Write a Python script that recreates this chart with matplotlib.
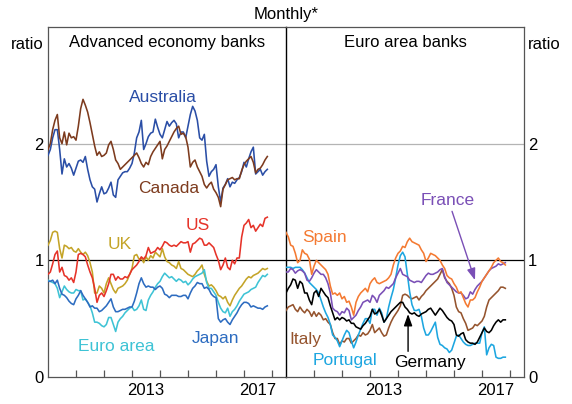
import numpy as np
import matplotlib
matplotlib.use('Agg')
import matplotlib.pyplot as plt

plt.rcParams['font.family'] = ['Liberation Sans', 'DejaVu Sans']

# monthly observations, Jan 2010 onwards
start_year = 2010

australia = [1.90, 1.95, 2.05, 2.12, 2.12, 1.95, 1.74, 1.87, 1.80, 1.83, 1.79, 1.73,
             1.79, 1.85, 1.86, 1.84, 1.89, 1.78, 1.69, 1.63, 1.61, 1.50, 1.57, 1.63,
             1.57, 1.58, 1.62, 1.67, 1.56, 1.54, 1.69, 1.72, 1.75, 1.76, 1.76, 1.79,
             1.83, 1.92, 2.05, 2.10, 2.20, 1.95, 2.00, 2.06, 2.09, 2.10, 2.21, 2.14,
             2.08, 2.05, 2.12, 2.19, 2.15, 2.18, 2.20, 2.17, 2.05, 2.10, 2.10, 2.05,
             2.15, 2.25, 2.32, 2.28, 2.20, 2.05, 2.03, 2.08, 1.85, 1.72, 1.76, 1.78,
             1.82, 1.63, 1.50, 1.62, 1.65, 1.70, 1.63, 1.67, 1.66, 1.69, 1.71, 1.76,
             1.84, 1.80, 1.87, 1.93, 1.97, 1.74, 1.76, 1.78, 1.73, 1.76, 1.78]
canada = [1.95, 2.00, 2.12, 2.20, 2.25, 2.05, 2.00, 2.10, 1.99, 2.09, 2.05, 2.06,
          2.03, 2.15, 2.30, 2.38, 2.33, 2.27, 2.18, 2.08, 1.98, 1.90, 1.93, 1.89,
          1.90, 1.92, 1.99, 2.02, 1.95, 1.86, 1.83, 1.78, 1.80, 1.82, 1.84, 1.86,
          1.88, 1.90, 1.92, 1.88, 1.83, 1.80, 1.84, 1.82, 1.89, 1.93, 1.96, 1.99,
          2.02, 1.87, 1.95, 1.98, 2.02, 2.06, 2.10, 2.13, 2.15, 2.08, 2.09, 2.06,
          1.97, 1.80, 1.84, 1.86, 1.80, 1.76, 1.72, 1.65, 1.62, 1.65, 1.67, 1.61,
          1.58, 1.54, 1.46, 1.61, 1.65, 1.69, 1.70, 1.71, 1.69, 1.70, 1.70, 1.77,
          1.82, 1.85, 1.87, 1.89, 1.84, 1.75, 1.78, 1.79, 1.82, 1.86, 1.89]
uk = [1.13, 1.17, 1.24, 1.25, 1.24, 1.10, 1.02, 1.13, 1.12, 1.10, 1.11, 1.08,
      1.07, 1.10, 1.07, 1.05, 1.07, 1.04, 0.98, 0.90, 0.72, 0.72, 0.78, 0.76,
      0.72, 0.80, 0.85, 0.80, 0.75, 0.72, 0.76, 0.77, 0.78, 0.80, 0.83, 0.88,
      0.93, 1.04, 1.05, 1.01, 1.02, 0.98, 1.03, 1.00, 1.04, 1.02, 1.07, 1.05,
      1.03, 1.10, 1.03, 0.99, 0.98, 0.96, 0.95, 0.93, 0.99, 0.93, 0.92, 0.90,
      0.88, 0.87, 0.86, 0.88, 0.91, 0.93, 0.96, 0.88, 0.82, 0.78, 0.79, 0.77,
      0.74, 0.70, 0.69, 0.67, 0.69, 0.64, 0.61, 0.66, 0.70, 0.73, 0.76, 0.78,
      0.81, 0.84, 0.86, 0.85, 0.87, 0.88, 0.89, 0.91, 0.93, 0.92, 0.93]
us = [0.88, 0.90, 0.97, 1.05, 1.08, 0.90, 0.94, 0.87, 0.86, 0.83, 0.85, 0.81,
      0.90, 1.05, 1.06, 1.05, 1.03, 0.96, 0.90, 0.85, 0.76, 0.64, 0.70, 0.72,
      0.69, 0.74, 0.80, 0.88, 0.88, 0.83, 0.86, 0.84, 0.84, 0.86, 0.85, 0.88,
      0.92, 0.94, 0.96, 0.99, 1.03, 1.01, 1.04, 1.11, 1.06, 1.07, 1.08, 1.11,
      1.09, 1.12, 1.16, 1.15, 1.13, 1.12, 1.13, 1.12, 1.14, 1.16, 1.15, 1.15,
      1.16, 1.07, 1.14, 1.15, 1.17, 1.19, 1.18, 1.13, 1.13, 1.15, 1.13, 1.11,
      1.05, 1.00, 0.92, 0.96, 1.02, 0.94, 0.92, 1.00, 0.97, 1.02, 1.02, 1.20,
      1.30, 1.32, 1.35, 1.28, 1.30, 1.25, 1.28, 1.31, 1.29, 1.36, 1.37]
euro_area = [0.83, 0.82, 0.81, 0.80, 0.76, 0.68, 0.73, 0.78, 0.75, 0.73, 0.72, 0.72,
             0.75, 0.74, 0.74, 0.66, 0.67, 0.64, 0.61, 0.55, 0.47, 0.47, 0.46, 0.44,
             0.43, 0.45, 0.51, 0.51, 0.45, 0.39, 0.47, 0.50, 0.52, 0.55, 0.57, 0.59,
             0.60, 0.57, 0.58, 0.61, 0.66, 0.58, 0.57, 0.66, 0.70, 0.73, 0.77, 0.80,
             0.82, 0.86, 0.89, 0.87, 0.85, 0.86, 0.84, 0.82, 0.84, 0.83, 0.81, 0.82,
             0.79, 0.81, 0.84, 0.86, 0.87, 0.88, 0.89, 0.92, 0.81, 0.76, 0.76, 0.73,
             0.70, 0.64, 0.59, 0.56, 0.55, 0.59, 0.52, 0.56, 0.58, 0.61, 0.65, 0.68,
             0.71, 0.72, 0.73, 0.75, 0.76, 0.77, 0.81, 0.84, 0.87, 0.86, 0.88]
japan = [0.82, 0.82, 0.83, 0.80, 0.83, 0.76, 0.71, 0.70, 0.68, 0.65, 0.63, 0.62,
         0.67, 0.70, 0.74, 0.70, 0.67, 0.64, 0.60, 0.61, 0.59, 0.59, 0.56, 0.57,
         0.59, 0.61, 0.64, 0.67, 0.60, 0.56, 0.56, 0.57, 0.58, 0.58, 0.59, 0.60,
         0.60, 0.65, 0.72, 0.80, 0.85, 0.80, 0.77, 0.78, 0.77, 0.77, 0.75, 0.77,
         0.78, 0.76, 0.71, 0.70, 0.68, 0.70, 0.70, 0.70, 0.69, 0.69, 0.70, 0.70,
         0.67, 0.72, 0.76, 0.78, 0.81, 0.80, 0.80, 0.76, 0.77, 0.75, 0.71, 0.69,
         0.68, 0.50, 0.47, 0.49, 0.50, 0.47, 0.45, 0.49, 0.52, 0.55, 0.59, 0.62,
         0.64, 0.64, 0.63, 0.60, 0.61, 0.60, 0.59, 0.59, 0.58, 0.60, 0.61]

spain = [1.24, 1.20, 1.13, 1.12, 1.06, 0.98, 1.00, 1.09, 1.06, 1.05, 1.01, 0.88,
         0.95, 1.00, 0.98, 0.96, 0.94, 0.92, 0.88, 0.78, 0.71, 0.72, 0.70, 0.72,
         0.67, 0.69, 0.64, 0.65, 0.60, 0.53, 0.64, 0.69, 0.72, 0.74, 0.76, 0.73,
         0.80, 0.83, 0.85, 0.81, 0.80, 0.81, 0.82, 0.83, 0.85, 0.88, 0.96, 1.02,
         1.06, 1.08, 1.12, 1.11, 1.16, 1.19, 1.16, 1.15, 1.14, 1.13, 1.09, 1.06,
         0.99, 1.02, 1.06, 1.05, 1.04, 1.02, 1.00, 0.96, 0.93, 0.87, 0.85, 0.84,
         0.80, 0.77, 0.72, 0.73, 0.68, 0.63, 0.60, 0.66, 0.66, 0.68, 0.73, 0.77,
         0.82, 0.85, 0.88, 0.91, 0.94, 0.98, 1.00, 1.02, 0.99, 0.98, 0.96]
france = [0.90, 0.90, 0.93, 0.92, 0.89, 0.91, 0.92, 0.91, 0.89, 0.83, 0.82, 0.85,
          0.89, 0.92, 0.90, 0.88, 0.88, 0.85, 0.80, 0.72, 0.59, 0.57, 0.56, 0.53,
          0.56, 0.55, 0.59, 0.57, 0.49, 0.51, 0.53, 0.57, 0.60, 0.64, 0.65, 0.66,
          0.64, 0.70, 0.68, 0.64, 0.70, 0.72, 0.74, 0.77, 0.76, 0.78, 0.80, 0.85,
          0.89, 0.93, 0.88, 0.87, 0.86, 0.83, 0.82, 0.81, 0.82, 0.82, 0.81, 0.84,
          0.87, 0.89, 0.88, 0.88, 0.89, 0.90, 0.92, 0.93, 0.86, 0.81, 0.79, 0.77,
          0.75, 0.73, 0.72, 0.72, 0.70, 0.67, 0.68, 0.73, 0.71, 0.75, 0.78, 0.80,
          0.82, 0.85, 0.88, 0.91, 0.93, 0.94, 0.95, 0.97, 0.96, 0.97, 0.98]
italy = [0.57, 0.60, 0.61, 0.62, 0.58, 0.56, 0.60, 0.57, 0.55, 0.58, 0.56, 0.52,
         0.56, 0.52, 0.55, 0.53, 0.49, 0.50, 0.47, 0.45, 0.38, 0.33, 0.33, 0.28,
         0.31, 0.30, 0.33, 0.33, 0.29, 0.31, 0.33, 0.36, 0.35, 0.38, 0.36, 0.37,
         0.40, 0.45, 0.38, 0.40, 0.42, 0.38, 0.35, 0.36, 0.42, 0.47, 0.51, 0.54,
         0.57, 0.61, 0.70, 0.71, 0.70, 0.68, 0.67, 0.68, 0.69, 0.66, 0.69, 0.71,
         0.74, 0.76, 0.78, 0.80, 0.82, 0.84, 0.88, 0.92, 0.85, 0.82, 0.80, 0.76,
         0.70, 0.60, 0.56, 0.55, 0.50, 0.46, 0.40, 0.41, 0.42, 0.45, 0.44, 0.46,
         0.48, 0.52, 0.60, 0.66, 0.68, 0.70, 0.72, 0.74, 0.77, 0.77, 0.76]
germany = [0.72, 0.76, 0.79, 0.84, 0.83, 0.76, 0.82, 0.80, 0.72, 0.72, 0.66, 0.62,
           0.72, 0.74, 0.69, 0.76, 0.73, 0.70, 0.68, 0.61, 0.55, 0.49, 0.51, 0.49,
           0.51, 0.50, 0.48, 0.49, 0.46, 0.46, 0.43, 0.42, 0.41, 0.44, 0.46, 0.49,
           0.52, 0.58, 0.54, 0.55, 0.58, 0.53, 0.47, 0.50, 0.53, 0.56, 0.58, 0.60,
           0.62, 0.64, 0.64, 0.60, 0.58, 0.55, 0.54, 0.55, 0.53, 0.52, 0.54, 0.55,
           0.56, 0.58, 0.59, 0.56, 0.53, 0.56, 0.59, 0.57, 0.54, 0.51, 0.49, 0.48,
           0.45, 0.36, 0.35, 0.37, 0.38, 0.32, 0.30, 0.29, 0.29, 0.28, 0.30, 0.34,
           0.38, 0.42, 0.39, 0.38, 0.40, 0.44, 0.47, 0.49, 0.47, 0.49, 0.49]
portugal = [0.94, 0.94, 0.94, 0.93, 0.94, 0.94, 0.94, 0.92, 0.89, 0.85, 0.81, 0.79,
            0.77, 0.75, 0.72, 0.66, 0.60, 0.55, 0.51, 0.45, 0.36, 0.34, 0.31, 0.26,
            0.31, 0.36, 0.40, 0.38, 0.31, 0.25, 0.30, 0.36, 0.41, 0.46, 0.50, 0.50,
            0.46, 0.58, 0.58, 0.53, 0.59, 0.55, 0.47, 0.50, 0.60, 0.68, 0.75, 0.85,
            0.96, 1.04, 1.07, 1.03, 0.88, 0.73, 0.62, 0.57, 0.57, 0.58, 0.52, 0.42,
            0.36, 0.36, 0.39, 0.43, 0.47, 0.34, 0.28, 0.27, 0.25, 0.24, 0.21, 0.23,
            0.29, 0.35, 0.36, 0.33, 0.30, 0.28, 0.27, 0.27, 0.28, 0.29, 0.29, 0.29,
            0.38, 0.43, 0.19, 0.25, 0.28, 0.27, 0.17, 0.16, 0.16, 0.17, 0.17]

year_ticks = [2011, 2012, 2013, 2014, 2015, 2016, 2017, 2018]
year_labels = ['2013', '2017']


def months_to_years(series):
    return start_year + np.arange(len(series)) / 12.0


left_series = [
    ('Australia', australia, '#2a4ea6', (2014.1, 2.40)),
    ('Canada', canada, '#7d3b1e', (2014.3, 1.62)),
    ('UK', uk, '#c4a428', (2012.57, 1.14)),
    ('US', us, '#e63329', (2015.36, 1.30)),
    ('Euro area', euro_area, '#3ec3d5', (2012.43, 0.26)),
    ('Japan', japan, '#2d6cc0', (2016.0, 0.33)),
]
right_series = [
    ('Italy', italy, '#95542e', (2010.68, 0.32)),
    ('Portugal', portugal, '#1da6e0', (2012.1, 0.14)),
    ('Germany', germany, '#000000', (2015.14, 0.12)),
    ('France', france, '#7a4fb6', (2015.79, 1.51)),
    ('Spain', spain, '#f47a32', (2011.39, 1.20)),
]

fig = plt.figure(figsize=(5.72, 4.04), dpi=100)
axl = fig.add_axes([48/572, 1-377/404, 238/572, 350/404])
axr = fig.add_axes([286/572, 1-377/404, 238/572, 350/404])

frame_col = '#555555'
for ax, title, series in [(axl, 'Advanced economy banks', left_series),
                          (axr, 'Euro area banks', right_series)]:
    ax.set_xlim(2010, 2018.5)
    ax.set_ylim(0, 3)
    ax.axhline(2, color='#b4b4b4', lw=0.9, zorder=1)
    ax.axhline(1, color='black', lw=0.9, zorder=1)
    for name, vals, col, (tx, ty) in series:
        ax.plot(months_to_years(vals), vals, color=col, lw=1.15, zorder=3)
        ax.text(tx, ty, name, color=col, fontsize=12.5, ha='center', va='center')
    ax.text(0.5, 0.955, title, transform=ax.transAxes, ha='center', va='center', fontsize=12)
    ax.set_xticks(year_ticks)
    ax.set_xticklabels([])
    ax.set_xticks([int(l) + 0.5 for l in year_labels], minor=True)
    ax.set_xticklabels(year_labels, minor=True, fontsize=12)
    ax.tick_params(axis='x', which='major', direction='in', length=5, color=frame_col, width=0.9)
    ax.tick_params(axis='x', which='minor', length=0, pad=4)
    ax.set_yticks([0, 1, 2])
    ax.tick_params(axis='y', length=0, labelsize=12, pad=3)
    for sp in ax.spines.values():
        sp.set_color(frame_col)
        sp.set_linewidth(0.9)

# the divider between the panels
axl.spines['right'].set_visible(False)
axr.spines['left'].set_color('black')
axr.spines['left'].set_linewidth(1.0)
axr.yaxis.tick_right()
axl.text(-0.02, 0.95, 'ratio', transform=axl.transAxes, ha='right', va='center', fontsize=12)
axr.text(1.015, 0.95, 'ratio', transform=axr.transAxes, ha='left', va='center', fontsize=12)

# pointers
axr.annotate('', xy=(2016.75, 0.83), xytext=(2015.93, 1.42),
             arrowprops=dict(arrowstyle='-|>,head_length=0.7,head_width=0.25',
                             color='#7a4fb6', lw=1.0, shrinkA=0, shrinkB=0))
axr.annotate('', xy=(2014.36, 0.54), xytext=(2014.36, 0.22),
             arrowprops=dict(arrowstyle='-|>,head_length=0.7,head_width=0.25',
                             color='black', lw=1.0, shrinkA=0, shrinkB=0))

fig.text(0.5, 1-14/404, 'Monthly*', ha='center', va='center', fontsize=12)

fig.savefig('out.png', dpi=100)
